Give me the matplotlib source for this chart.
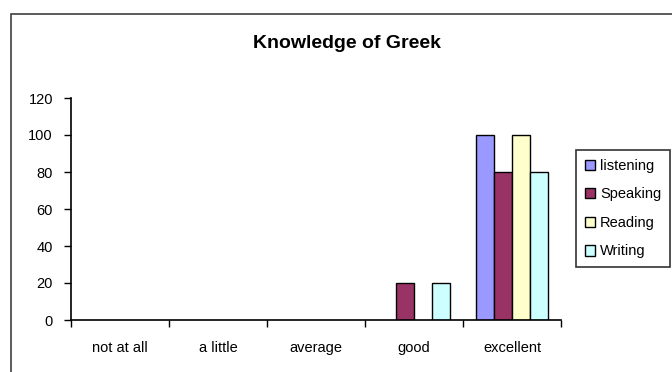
import numpy as np
import matplotlib.pyplot as plt
from matplotlib.patches import Rectangle

plt.rcParams['font.family'] = ['Liberation Sans', 'DejaVu Sans']

categories = ['not at all', 'a little', 'average', 'good', 'excellent']
series = ['listening', 'Speaking', 'Reading', 'Writing']
listening = [0, 0, 0, 0, 100]
speaking = [0, 0, 0, 20, 80]
reading = [0, 0, 0, 0, 100]
writing = [0, 0, 0, 20, 80]
colors = ['#9999FF', '#993366', '#FFFFCC', '#CCFFFF']

fig = plt.figure(figsize=(6.72, 3.72), dpi=100)
# chart area border, runs off the right and bottom edges
fig.patches.append(Rectangle((11/672, -0.1), 1.1, 1 - 14/372 + 0.1,
                             transform=fig.transFigure, fill=False,
                             edgecolor='#404040', linewidth=1.2))

ax = fig.add_axes([71/672, 1 - 320/372, 490/672, 222/372])

x = np.arange(len(categories)) + 0.5
w = 1 / 5.5
for i, (vals, c) in enumerate(zip([listening, speaking, reading, writing], colors)):
    vals = np.array(vals, dtype=float)
    mask = vals > 0
    ax.bar(x[mask] + (i - 1.5) * w, vals[mask], width=w, color=c,
           edgecolor='black', linewidth=1, label=series[i])

ax.set_xlim(0, 5)
ax.set_ylim(0, 120)
ax.set_yticks(range(0, 121, 20))
ax.set_xticks(range(6))
ax.set_xticklabels([])
ax.set_xticks(x, minor=True)
ax.set_xticklabels(categories, minor=True)
ax.tick_params(axis='x', which='minor', length=0, pad=15, labelsize=10.5)
ax.tick_params(axis='x', which='major', direction='out', length=5, width=1)
ax.tick_params(axis='y', direction='out', length=5, width=1, labelsize=10.5, pad=8)
for s in ['top', 'right']:
    ax.spines[s].set_visible(False)
for s in ['left', 'bottom']:
    ax.spines[s].set_linewidth(1.2)

fig.text(347/672, 1 - 43/372, 'Knowledge of Greek', ha='center', va='center',
         fontsize=14, fontweight='bold')

leg = ax.legend(loc='upper left', bbox_to_anchor=(576/672, 1 - 150/372),
                bbox_transform=fig.transFigure, frameon=True, fancybox=False,
                edgecolor='black', fontsize=10.5, handlelength=0.7, handleheight=0.7,
                handletextpad=0.35, labelspacing=1.0, borderpad=0.6,
                borderaxespad=0)
leg.get_frame().set_linewidth(1.2)

fig.savefig('out.png', dpi=100)
